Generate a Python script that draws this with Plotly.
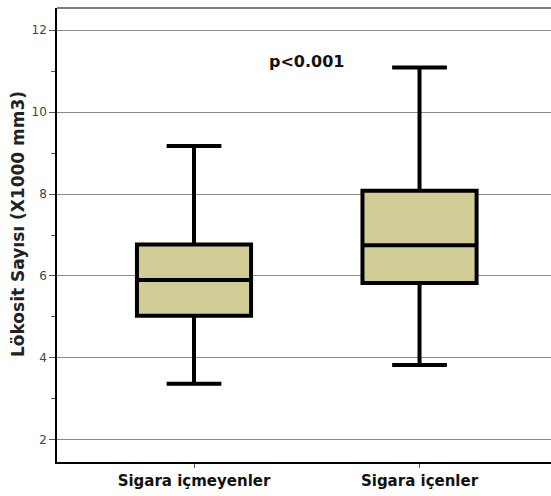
import plotly.graph_objects as go

# Leukocyte counts (x1000 mm3) by smoking status: box summary statistics
groups = ["Sigara içmeyenler", "Sigara içenler"]
lower_whisker = [3.37, 3.83]
q1_values = [5.03, 5.83]
medians = [5.90, 6.75]
q3_values = [6.77, 8.08]
upper_whisker = [9.17, 11.09]

y_ticks = [2, 4, 6, 8, 10, 12]
p_text = "p<0.001"
y_title = "Lökosit Sayısı (X1000 mm3)"

W, H = 551, 496
M_L, M_R, M_T, M_B = 57, 0, 8, 34
plot_w = W - M_L - M_R
plot_h = H - M_T - M_B

fig = go.Figure()
fig.add_trace(go.Box(
    x=groups,
    q1=q1_values,
    median=medians,
    q3=q3_values,
    lowerfence=lower_whisker,
    upperfence=upper_whisker,
    fillcolor="#D2CD97",
    line=dict(color="black", width=4),
    width=0.506,
    whiskerwidth=0.48,
    boxpoints=False,
    hoverinfo="skip",
))

fig.add_annotation(
    x=0.5, y=11.23, xref="x", yref="y",
    text=p_text, showarrow=False,
    font=dict(family="DejaVu Sans", size=16, color="#111111", weight="bold"),
)

# vertical axis title, centred at 18 px from the left and slightly above mid-plot
fig.add_annotation(
    x=(18 - M_L) / plot_w, y=(H - M_B - 224) / plot_h,
    xref="paper", yref="paper", xanchor="center", yanchor="middle",
    text=y_title, showarrow=False, textangle=-90,
    font=dict(family="DejaVu Sans", size=17, color="#222222", weight="bold"),
)

fig.update_layout(
    width=W, height=H,
    margin=dict(l=M_L, r=M_R, t=M_T, b=M_B),
    paper_bgcolor="white",
    plot_bgcolor="white",
    showlegend=False,
    font=dict(family="DejaVu Sans"),
)

fig.update_xaxes(
    type="category",
    range=[-0.6075, 1.583],
    showline=True, linecolor="black", linewidth=1.5,
    mirror=False,
    ticks="outside", ticklen=4, tickcolor="#555555", tickwidth=1,
    showgrid=False, zeroline=False,
    tickfont=dict(family="DejaVu Sans", size=15, color="#111111", weight="bold"),
)

fig.update_yaxes(
    range=[1.46, 12.54],
    tickvals=y_ticks,
    ticks="outside", ticklen=6, tickcolor="#555555", tickwidth=1,
    minor=dict(dtick=1, ticks="outside", ticklen=4, tickcolor="#555555", showgrid=False),
    showgrid=True, gridcolor="#8a8a8a", gridwidth=1,
    showline=True, linecolor="black", linewidth=1.5,
    zeroline=False,
    tickfont=dict(family="DejaVu Sans", size=12, color="#444444"),
)

# top border of the plot area
fig.add_shape(type="line", xref="paper", yref="paper", x0=0, x1=1, y0=1, y1=1,
              line=dict(color="#555555", width=1.5))

fig.write_html("out.html")
